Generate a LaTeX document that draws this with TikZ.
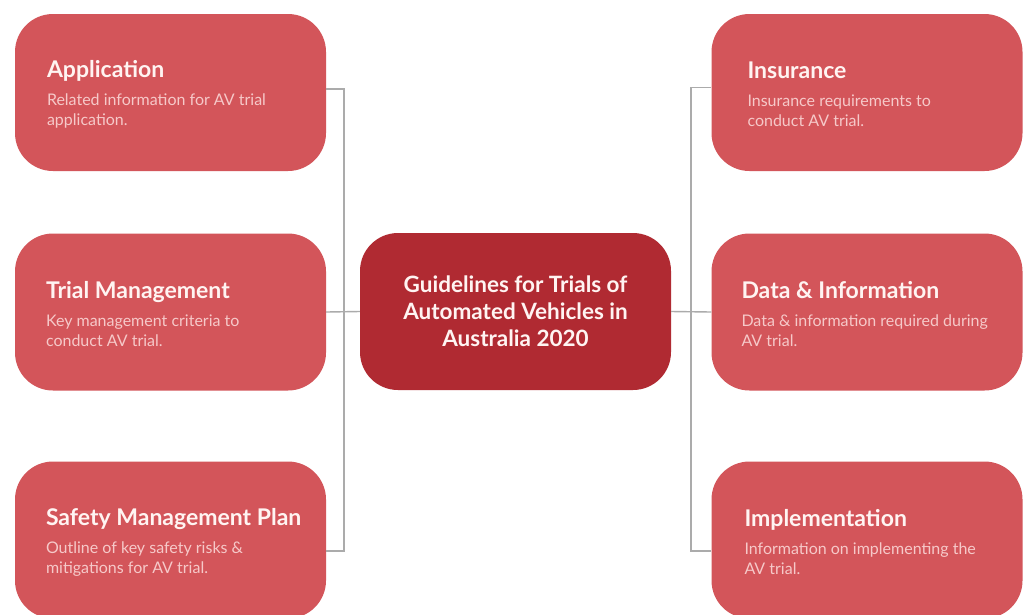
\documentclass[tikz,border=0pt]{standalone}
\usepackage{fontspec}
\setmainfont{Lato}
\usetikzlibrary{positioning}

\definecolor{sidered}{HTML}{D3555A}
\definecolor{corered}{HTML}{B02A32}
\definecolor{headtext}{HTML}{FFF4F2}
\definecolor{bodytext}{HTML}{F6C9C9}
\definecolor{busgray}{HTML}{ABABAB}

\newcommand{\boxhead}[1]{{\color{headtext}\bfseries\fontsize{23}{26}\selectfont #1}}

\tikzset{
  topic/.style={rectangle,rounded corners=38pt,fill=sidered,minimum width=311pt,
    minimum height=157pt,inner sep=0pt},
  topictext/.style={inner sep=0pt,align=left,text=bodytext,
    font=\fontsize{16}{20}\selectfont,yshift=-2pt},
  core/.style={rectangle,rounded corners=38pt,fill=corered,minimum width=311pt,
    minimum height=157pt,align=center,text=headtext,
    font=\bfseries\fontsize{22.5}{27}\selectfont},
  bus/.style={draw=busgray,line width=1.4pt}
}

\begin{document}
\begin{tikzpicture}[x=1pt,y=-1pt]
    \clip (0,0) rectangle (1024,614);
    \fill[white] (0,0) rectangle (1024,614);
    \begin{scope}
        \node[core] (guide) at (515.5,311.5) {Guidelines for Trials of\\Automated Vehicles in\\Australia 2020};
        \node[topic] (app) at (170.5,92.5) {};
        \node[topic] (trial) at (170.5,312) {};
        \node[topic] (safety) at (170.5,540) {};
        \node[topic] (ins) at (867,92.5) {};
        \node[topic] (data) at (867,312) {};
        \node[topic] (impl) at (867,540) {};
    \end{scope}
    \node[topictext,right=32pt of app.west] (app-t) {\boxhead{Application}\\[8pt]Related information for AV trial\\application.};
    \node[topictext,right=31pt of trial.west] (trial-t) {\boxhead{Trial Management}\\[8pt]Key management criteria to\\conduct AV trial.};
    \node[topictext,right=31pt of safety.west] (safety-t) {\boxhead{Safety Management Plan}\\[8pt]Outline of key safety risks \&\\mitigations for AV trial.};
    \node[topictext,right=36pt of ins.west] (ins-t) {\boxhead{Insurance}\\[8pt]Insurance requirements to\\conduct AV trial.};
    \node[topictext,right=30pt of data.west] (data-t) {\boxhead{Data \& Information}\\[8pt]Data \& information required during\\AV trial.};
    \node[topictext,right=33pt of impl.west] (impl-t) {\boxhead{Implementation}\\[8pt]Information on implementing the\\AV trial.};
    \coordinate (lbus) at (344,312);
    \coordinate (rbus) at (691,312);
    \begin{scope}[every path/.style={bus}]
        \draw ([yshift=3.5pt]app.east) -| (lbus) |- ([yshift=-11pt]safety.east);
        \draw (trial.east) -- (guide.west);
        \draw ([yshift=5pt]ins.west) -| (rbus) |- ([yshift=-11pt]impl.west);
        \draw (guide.east) -- (data.west);
    \end{scope}
\end{tikzpicture}
\end{document}
